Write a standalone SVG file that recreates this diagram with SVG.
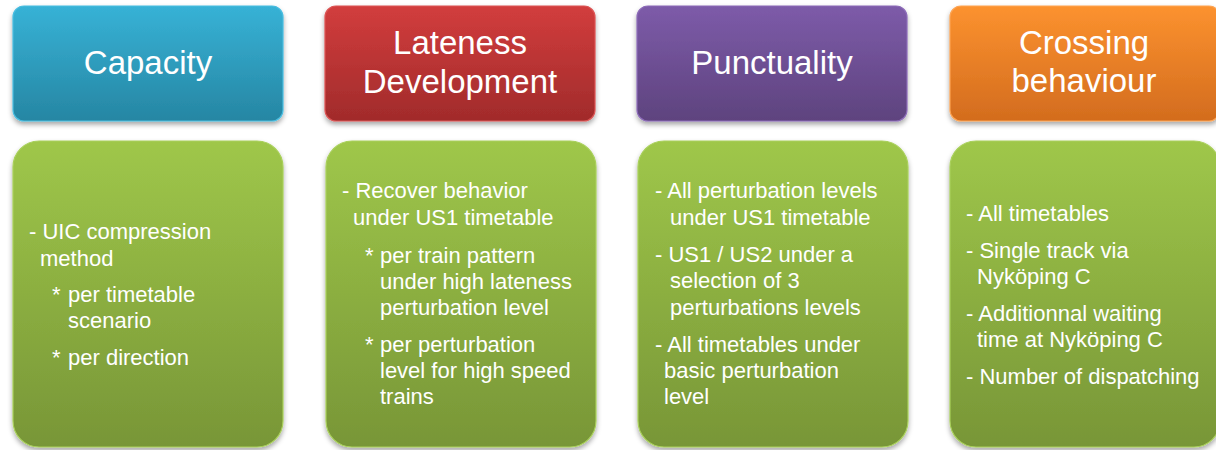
<svg xmlns="http://www.w3.org/2000/svg" width="1216" height="450" viewBox="0 0 1216 450">
  <defs>
    <linearGradient id="gBlue" x1="0" y1="0" x2="0" y2="1">
      <stop offset="0" stop-color="#37b2d6"/>
      <stop offset="1" stop-color="#2686a3"/>
    </linearGradient>
    <linearGradient id="gRed" x1="0" y1="0" x2="0" y2="1">
      <stop offset="0" stop-color="#d23d3d"/>
      <stop offset="1" stop-color="#a12b2b"/>
    </linearGradient>
    <linearGradient id="gPurple" x1="0" y1="0" x2="0" y2="1">
      <stop offset="0" stop-color="#7d5ba9"/>
      <stop offset="1" stop-color="#5e437e"/>
    </linearGradient>
    <linearGradient id="gOrange" x1="0" y1="0" x2="0" y2="1">
      <stop offset="0" stop-color="#fc922f"/>
      <stop offset="1" stop-color="#d36c1e"/>
    </linearGradient>
    <linearGradient id="gGreen" x1="0" y1="0" x2="0" y2="1">
      <stop offset="0" stop-color="#9fc74a"/>
      <stop offset="1" stop-color="#789637"/>
    </linearGradient>
    <filter id="shadow" x="-10%" y="-10%" width="120%" height="130%">
      <feDropShadow dx="0" dy="3" stdDeviation="2.5" flood-color="#000" flood-opacity="0.35"/>
    </filter>
  </defs>
  <style>
    .head { filter: url(#shadow); stroke-width: 1.2; }
    .body { fill: url(#gGreen); stroke: #a9d05b; stroke-width: 1.2; filter: url(#shadow); }
    .ht { font-family: "Liberation Sans", Arial, sans-serif; font-size: 33px; fill: #ffffff; text-anchor: middle; }
    .bt { font-family: "Liberation Sans", Arial, sans-serif; font-size: 22px; fill: #ffffff; }
  </style>
  <rect width="1216" height="450" fill="#ffffff"/>

  <g id="capacity">
    <rect class="head" x="13" y="6" width="270" height="115" rx="11" fill="url(#gBlue)" stroke="#49bde0"/>
    <text class="ht" x="148" y="74">Capacity</text>
    <rect class="body" x="13" y="141" width="270" height="306" rx="26"/>
    <text class="bt">
      <tspan x="29" y="239">- UIC compression</tspan>
      <tspan x="40" y="266">method</tspan>
      <tspan x="52" y="302">*</tspan><tspan x="68" y="302">per timetable</tspan>
      <tspan x="68" y="328">scenario</tspan>
      <tspan x="52" y="365">*</tspan><tspan x="68" y="365">per direction</tspan>
    </text>
  </g>

  <g id="lateness">
    <rect class="head" x="325" y="6" width="270" height="115" rx="11" fill="url(#gRed)" stroke="#dc5454"/>
    <text class="ht" x="460" y="54">Lateness</text>
    <text class="ht" x="460" y="93">Development</text>
    <rect class="body" x="326" y="141" width="270" height="306" rx="26"/>
    <text class="bt">
      <tspan x="342" y="198">- Recover behavior</tspan>
      <tspan x="353" y="225">under US1 timetable</tspan>
      <tspan x="365" y="263">*</tspan><tspan x="380" y="263">per train pattern</tspan>
      <tspan x="380" y="289">under high lateness</tspan>
      <tspan x="380" y="315">perturbation level</tspan>
      <tspan x="365" y="352">*</tspan><tspan x="380" y="352">per perturbation</tspan>
      <tspan x="380" y="378">level for high speed</tspan>
      <tspan x="380" y="404">trains</tspan>
    </text>
  </g>

  <g id="punctuality">
    <rect class="head" x="637" y="6" width="270" height="115" rx="11" fill="url(#gPurple)" stroke="#8c6bb8"/>
    <text class="ht" x="772" y="74">Punctuality</text>
    <rect class="body" x="638" y="141" width="270" height="306" rx="26"/>
    <text class="bt">
      <tspan x="655" y="198">- All perturbation levels</tspan>
      <tspan x="670" y="225">under US1 timetable</tspan>
      <tspan x="655" y="262">- US1 / US2 under a</tspan>
      <tspan x="670" y="288">selection of 3</tspan>
      <tspan x="670" y="315">perturbations levels</tspan>
      <tspan x="655" y="352">- All timetables under</tspan>
      <tspan x="664" y="378">basic perturbation</tspan>
      <tspan x="664" y="404">level</tspan>
    </text>
  </g>

  <g id="crossing">
    <rect class="head" x="950" y="6" width="270" height="115" rx="11" fill="url(#gOrange)" stroke="#fda453"/>
    <text class="ht" x="1084" y="54">Crossing</text>
    <text class="ht" x="1084" y="92">behaviour</text>
    <rect class="body" x="950" y="141" width="270" height="306" rx="26"/>
    <text class="bt">
      <tspan x="966" y="221">- All timetables</tspan>
      <tspan x="966" y="258">- Single track via</tspan>
      <tspan x="977" y="284">Nyköping C</tspan>
      <tspan x="966" y="321">- Additionnal waiting</tspan>
      <tspan x="977" y="347">time at Nyköping C</tspan>
      <tspan x="966" y="384">- Number of dispatching</tspan>
    </text>
  </g>

  <!-- the layout has no connectors -->
  <g id="connectors"/>
</svg>
